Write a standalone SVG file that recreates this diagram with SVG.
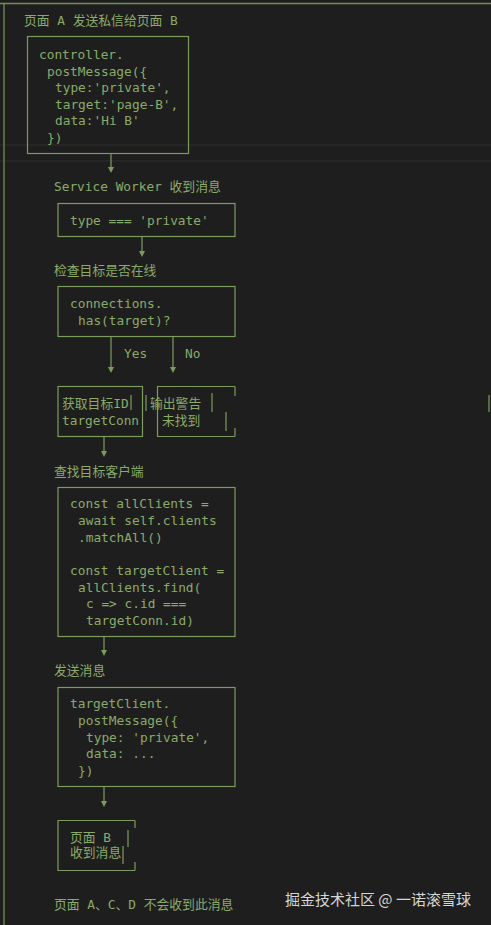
<svg xmlns="http://www.w3.org/2000/svg" width="491" height="925" viewBox="0 0 491 925">
<defs>
<style>
.bg{fill:#1e1e1e}
.frame{stroke:#6f8f58;stroke-width:1.3;fill:none}
.faint{stroke:#2e2e2e;stroke-width:1.2}
.box{stroke:#7b9c5c;stroke-width:1.2;fill:none}
.ln{stroke:#7b9c5c;stroke-width:1.2;fill:none}
.ah{fill:#7b9c5c}
.t{font-family:"DejaVu Sans Mono","Noto Sans CJK SC",monospace;font-size:12.8px;fill:#8aab6a}
.wm{font-family:"Noto Sans CJK SC","Noto Sans",sans-serif;font-size:15px;fill:#d6d6d6}
</style>
</defs>
<rect class="bg" x="0" y="0" width="491" height="925"/>
<g id="frame">
<line class="faint" x1="0" y1="145" x2="491" y2="145"/>
<line class="faint" x1="0" y1="161" x2="491" y2="161"/>
<line class="frame" x1="0" y1="3.5" x2="491" y2="3.5"/>
<line class="frame" x1="4" y1="3.5" x2="4" y2="925"/>
<line class="ln" x1="489" y1="395" x2="489" y2="412"/>
</g>
<g id="labels">
<text class="t" x="24" y="25">页面 A 发送私信给页面 B</text>
<text class="t" x="54" y="190.5">Service Worker 收到消息</text>
<text class="t" x="54" y="274.5">检查目标是否在线</text>
<text class="t" x="54" y="475.5">查找目标客户端</text>
<text class="t" x="54" y="675">发送消息</text>
<text class="t" x="54" y="908.5">页面 A、C、D 不会收到此消息</text>
</g>
<g id="node-post">
<rect class="box" x="27.5" y="36.5" width="161" height="117"/>
<text class="t" x="39" y="58.5">controller.</text>
<text class="t" x="47" y="75.5">postMessage({</text>
<text class="t" x="55" y="91.5">type:'private',</text>
<text class="t" x="55" y="108.5">target:'page-B',</text>
<text class="t" x="55" y="124.5">data:'Hi B'</text>
<text class="t" x="47" y="141.5">})</text>
</g>
<g id="node-type">
<rect class="box" x="58" y="203.5" width="177" height="33"/>
<text class="t" x="70" y="225">type === 'private'</text>
</g>
<g id="node-check">
<rect class="box" x="58" y="286.5" width="177" height="50"/>
<text class="t" x="70" y="307.5">connections.</text>
<text class="t" x="78" y="325">has(target)?</text>
</g>
<g id="node-get">
<rect class="box" x="58" y="386.5" width="84.5" height="50"/>
<line class="ln" x1="131" y1="395" x2="131" y2="410"/>
<text class="t" x="62" y="408">获取目标ID</text>
<text class="t" x="62" y="425">targetConn</text>
</g>
<g id="node-warn">
<path class="box" d="M235,386.5 H157.5 V436.5 H235 M235,386.5 V396 M235,428 V436.5"/>
<line class="ln" x1="146" y1="395" x2="146" y2="411"/>
<line class="ln" x1="212" y1="393" x2="212" y2="412"/>
<line class="ln" x1="226" y1="412" x2="226" y2="431"/>
<text class="t" x="150" y="408">输出警告</text>
<text class="t" x="162" y="425">未找到</text>
</g>
<g id="node-find">
<rect class="box" x="58" y="487.5" width="177" height="149"/>
<text class="t" x="70" y="508">const allClients =</text>
<text class="t" x="78" y="525">await self.clients</text>
<text class="t" x="78" y="542">.matchAll()</text>
<text class="t" x="70" y="575">const targetClient =</text>
<text class="t" x="78" y="592">allClients.find(</text>
<text class="t" x="86" y="608">c =&gt; c.id ===</text>
<text class="t" x="86" y="625">targetConn.id)</text>
</g>
<g id="node-send">
<rect class="box" x="58" y="687.5" width="177" height="99"/>
<text class="t" x="70" y="708">targetClient.</text>
<text class="t" x="78" y="725">postMessage({</text>
<text class="t" x="86" y="742">type: 'private',</text>
<text class="t" x="86" y="758">data: ...</text>
<text class="t" x="78" y="774.5">})</text>
</g>
<g id="node-pageb">
<path class="box" d="M135,820.5 H58 V870.5 H135 M135,820.5 V828 M135,862 V870.5"/>
<line class="ln" x1="128" y1="830" x2="128" y2="847"/>
<line class="ln" x1="123" y1="846" x2="123" y2="864"/>
<text class="t" x="70" y="842">页面 B</text>
<text class="t" x="70" y="857">收到消息</text>
</g>
<g id="connectors">
<line class="ln" x1="111" y1="154" x2="111" y2="167"/>
<polygon class="ah" points="108,167 114,167 111,173"/>
<line class="ln" x1="142" y1="237" x2="142" y2="251"/>
<polygon class="ah" points="139,251 145,251 142,257"/>
<line class="ln" x1="111" y1="337" x2="111" y2="367"/>
<polygon class="ah" points="108,367 114,367 111,373"/>
<text class="t" x="124" y="357.5">Yes</text>
<line class="ln" x1="173" y1="337" x2="173" y2="367"/>
<polygon class="ah" points="170,367 176,367 173,373"/>
<text class="t" x="185" y="357.5">No</text>
<line class="ln" x1="104" y1="437" x2="104" y2="451"/>
<polygon class="ah" points="101,451 107,451 104,457"/>
<line class="ln" x1="104" y1="637" x2="104" y2="650"/>
<polygon class="ah" points="101,650 107,650 104,656"/>
<line class="ln" x1="104" y1="787" x2="104" y2="801"/>
<polygon class="ah" points="101,801 107,801 104,807"/>
</g>
<g id="watermark">
<text class="wm" x="285" y="905">掘金技术社区 @ 一诺滚雪球</text>
</g>
</svg>
